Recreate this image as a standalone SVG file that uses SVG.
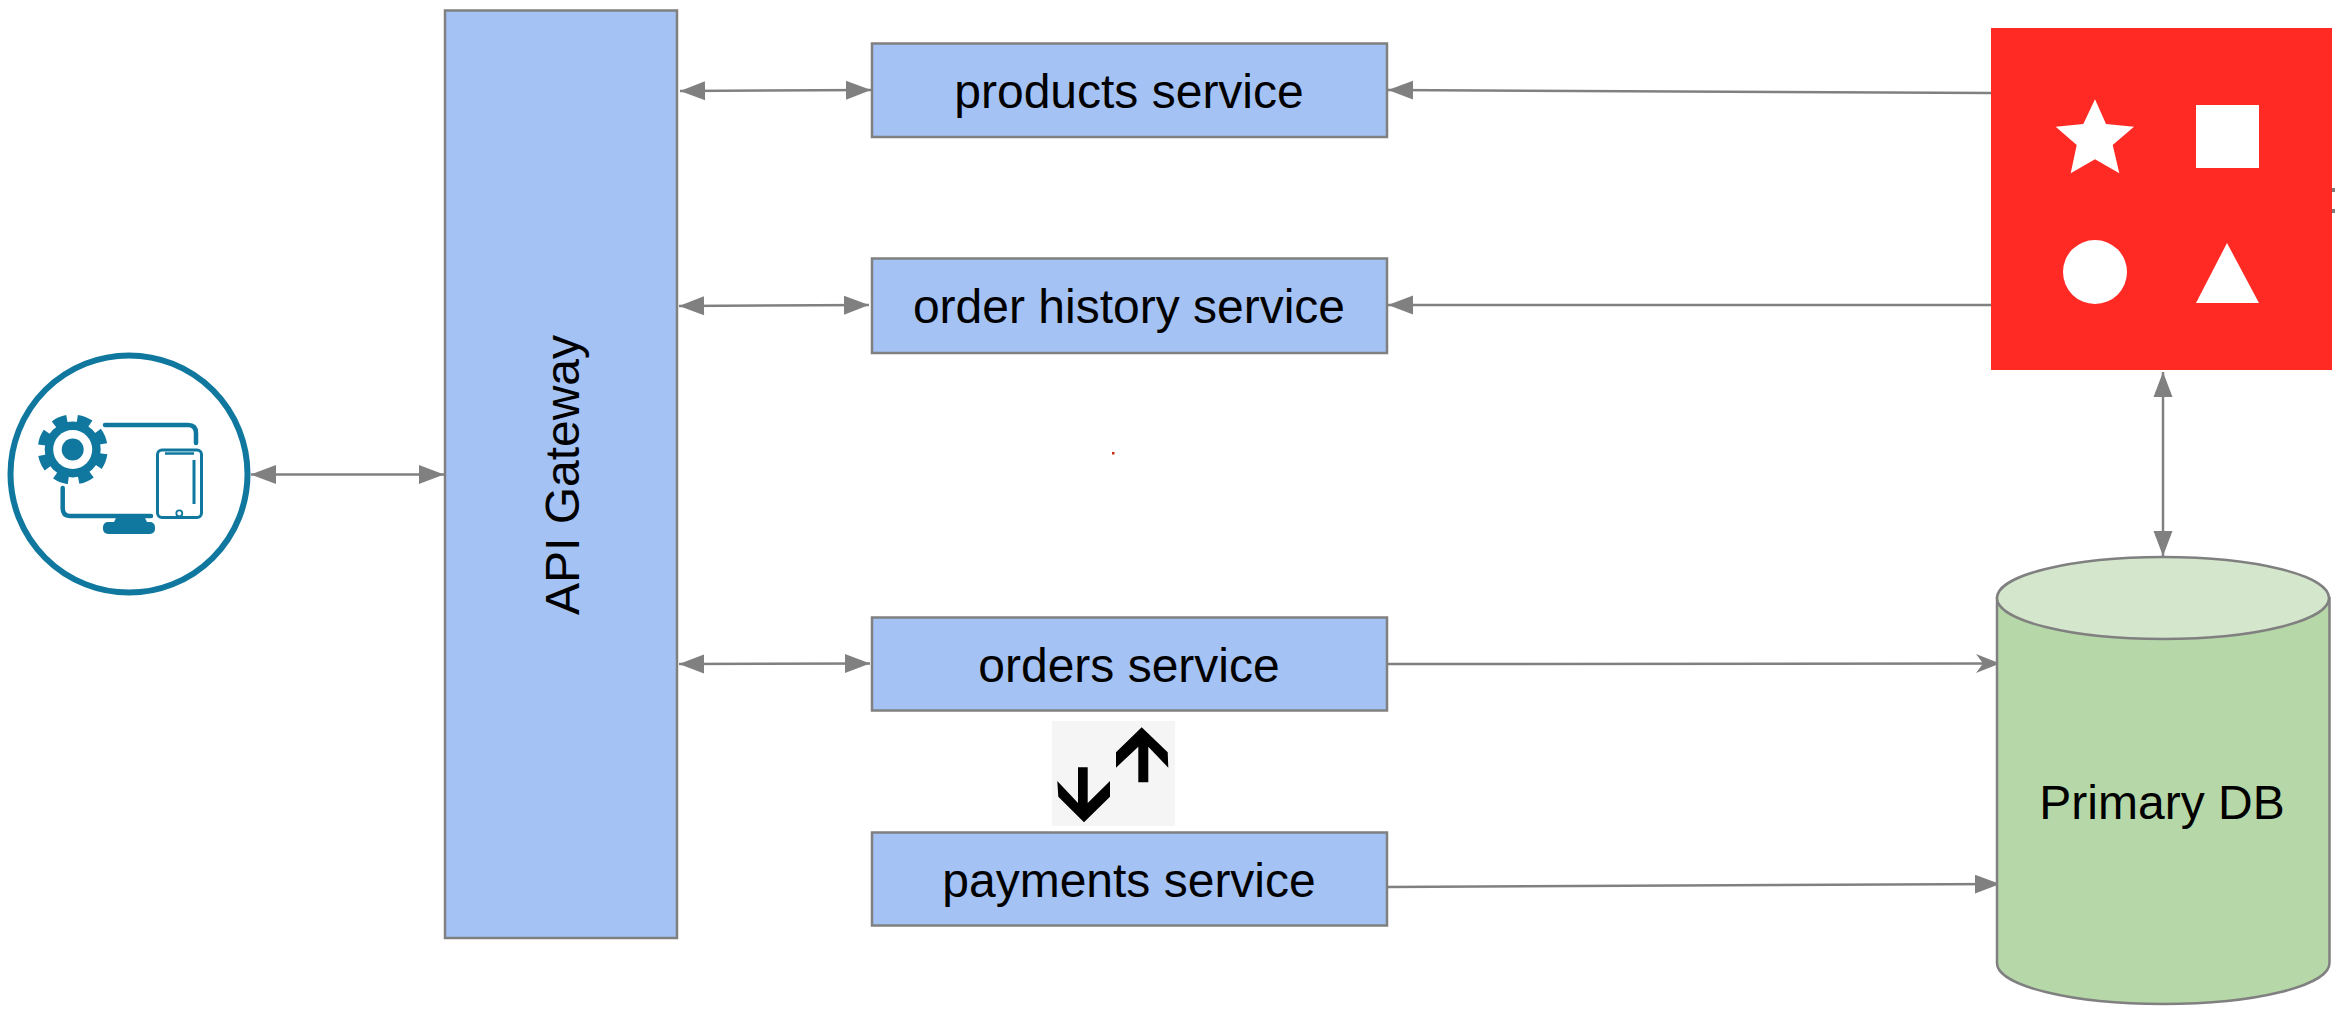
<svg xmlns="http://www.w3.org/2000/svg" width="2340" height="1013" viewBox="0 0 2340 1013">
<style>
.box{fill:#a4c2f4;stroke:#808080;stroke-width:2.5}
.lbl{font-family:"Liberation Sans",Arial,sans-serif;font-size:48px;fill:#000;text-anchor:middle}
.conn{fill:none;stroke:#808080;stroke-width:2.5}
.ic{fill:none;stroke:#10789f;stroke-width:4.5;stroke-linecap:round}
.db{fill:#b6d7a8;stroke:#808080;stroke-width:2.5}
</style>
<defs>
<marker id="end" markerUnits="userSpaceOnUse" markerWidth="26" markerHeight="20" refX="25" refY="9.5" orient="auto"><path d="M0 0L25 9.5L0 19Z" fill="#808080"/></marker>
<marker id="start" markerUnits="userSpaceOnUse" markerWidth="26" markerHeight="20" refX="0" refY="9.5" orient="auto"><path d="M25 0L0 9.5L25 19Z" fill="#808080"/></marker>
<marker id="open" markerUnits="userSpaceOnUse" markerWidth="26" markerHeight="20" refX="24" refY="9.5" orient="auto"><path d="M0 0L24 9.5L0 19L7 9.5Z" fill="#808080"/></marker>
</defs>
<g id="connectors">
<line class="conn" x1="251" y1="474.500" x2="444" y2="474.500" marker-start="url(#start)" marker-end="url(#end)"/>
<line class="conn" x1="680" y1="91" x2="871" y2="90" marker-start="url(#start)" marker-end="url(#end)"/>
<line class="conn" x1="679" y1="306" x2="869" y2="305" marker-start="url(#start)" marker-end="url(#end)"/>
<line class="conn" x1="679" y1="664" x2="870" y2="663.500" marker-start="url(#start)" marker-end="url(#end)"/>
<line class="conn" x1="1991" y1="93" x2="1388" y2="90" marker-end="url(#end)"/>
<line class="conn" x1="1991" y1="305" x2="1388" y2="305" marker-end="url(#end)"/>
<line class="conn" x1="1387" y1="664" x2="2000" y2="663.500" marker-end="url(#open)"/>
<line class="conn" x1="1387" y1="887" x2="2000" y2="884" marker-end="url(#end)"/>
<line class="conn" x1="2163" y1="372" x2="2163" y2="556" marker-start="url(#start)" marker-end="url(#end)"/>
<path d="M2332 190h3M2332 211h3" stroke="#808080" stroke-width="4" fill="none"/>
</g>
<g id="client">
<circle cx="129" cy="474" r="118.500" fill="#fff" stroke="#10789f" stroke-width="6"/>
<circle cx="72.700" cy="449.500" r="28" fill="#10789f"/>
<circle cx="72.700" cy="449.500" r="31" fill="none" stroke="#10789f" stroke-width="8" stroke-dasharray="14 10.350" transform="rotate(8 72.700 449.500)"/>
<circle cx="72.700" cy="449.500" r="19.500" fill="#fff"/>
<circle cx="72.700" cy="449.500" r="11" fill="#10789f"/>
<path class="ic" d="M105 425H188Q196 425 196 433V443"/>
<path class="ic" d="M62.700 488V508Q62.700 516 70 516H151"/>
<path d="M117 516H144L147 522H114Z" fill="#10789f"/>
<rect x="103" y="522" width="52" height="12" rx="5" fill="#10789f"/>
<rect x="157.500" y="450" width="44" height="67.500" rx="4.500" fill="#fff" stroke="#10789f" stroke-width="3"/>
<path d="M165 453.500H194" stroke="#10789f" stroke-width="2.500" fill="none"/>
<path d="M194 460V504" stroke="#10789f" stroke-width="3" fill="none"/>
<circle cx="179.300" cy="513.300" r="3" fill="#fff" stroke="#10789f" stroke-width="1.800"/>
</g>
<g id="api-gateway">
<rect class="box" x="445" y="10.500" width="232" height="927.500"/>
<text class="lbl" x="0" y="0" transform="translate(579 475) rotate(-90)">API Gateway</text>
</g>
<g id="products-service">
<rect class="box" x="872" y="43.500" width="515" height="93.500"/>
<text class="lbl" x="1129" y="108">products service</text>
</g>
<g id="order-history-service">
<rect class="box" x="872" y="258.500" width="515" height="94.500"/>
<text class="lbl" x="1129" y="323">order history service</text>
</g>
<g id="orders-service">
<rect class="box" x="872" y="617.500" width="515" height="93"/>
<text class="lbl" x="1129" y="682">orders service</text>
</g>
<g id="payments-service">
<rect class="box" x="872" y="832.500" width="515" height="93"/>
<text class="lbl" x="1129" y="897">payments service</text>
</g>
<g id="arrows-icon">
<rect x="1052" y="721" width="123" height="105" fill="#f5f5f5"/>
<polygon points="1078,767.300 1087.700,767.300 1087.700,803 1110,781 1110,796.700 1084,822.300 1058.300,796.700 1057.300,781 1078,803" fill="#000"/>
<polygon points="1141.700,727.300 1116,752.300 1116,767.700 1138.300,746.700 1138.300,782.300 1148.300,782.300 1148.300,746.700 1168.300,767.700 1167.700,752.300" fill="#000"/>
</g>
<g id="shapes-service">
<rect x="1991" y="28" width="341" height="342" fill="#ff2a24"/>
<polygon points="2095,99.300 2106,124 2134,126.700 2112.700,145 2119.300,173.300 2095,159.300 2070.700,173.300 2076.700,145 2055.700,126.700 2083.300,124" fill="#fff"/>
<rect x="2196" y="105" width="63" height="63" fill="#fff"/>
<circle cx="2095" cy="272" r="32" fill="#fff"/>
<polygon points="2227,243 2259,303 2196,303" fill="#fff"/>
</g>
<g id="primary-db">
<path class="db" d="M1997 598V963A166 41 0 0 0 2329.500 963V598Z"/>
<ellipse cx="2163" cy="598" rx="166" ry="41" fill="#d4e6cc" stroke="#808080" stroke-width="2.500"/>
<text class="lbl" x="2162" y="819">Primary DB</text>
</g>
<rect x="1112" y="452" width="2.500" height="2.500" fill="#cc2a10"/>
</svg>
